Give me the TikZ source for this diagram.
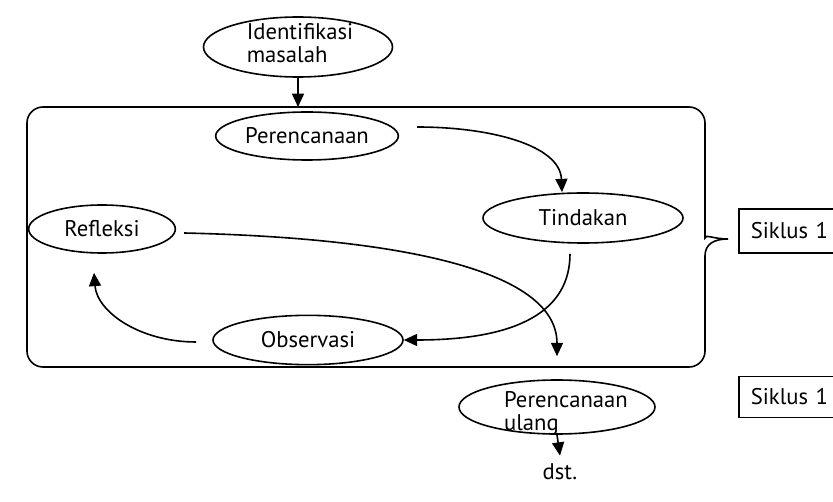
\documentclass[tikz,border=0pt]{standalone}
\usepackage{fontspec}
\setmainfont{PT Sans}
\usetikzlibrary{shapes.geometric,arrows.meta}
\newcommand\zbox[2]{\raisebox{#1}[0pt][0pt]{\makebox[0pt]{#2}}}
\tikzset{
  ln/.style={line width=1.2pt, black},
  oval/.style={ellipse, draw, ln, inner sep=0pt},
  arr/.style={ln, -{Triangle[length=10pt,width=9pt]}},
  sbox/.style={draw, ln, rectangle, anchor=west, minimum height=33pt, inner xsep=9pt, text width=61.5pt, align=left},
  txt/.style={inner sep=6pt}
}
\begin{document}
\begin{tikzpicture}[x=0.75pt,y=-0.75pt, font=\fontsize{17}{17.5}\selectfont]
\clip (0,0) rectangle (833,502);
\fill[white] (0,0) rectangle (833,502);

% outer cycle box with brace
\draw[ln] (27,240) [rounded corners=12pt] -- (27,107) -- (705,107) -- (705,222)
  [sharp corners] .. controls (705,234) and (714,239) .. (728,239)
  .. controls (714,239) and (705,244) .. (705,256)
  [rounded corners=12pt] -- (705,367) -- (27,367) -- (27,240);
\coordinate (boxtop) at (298,107);

% nodes
\node[oval, minimum width=141.75pt, minimum height=45pt] (I) at (298,47)
  {\zbox{-4pt}{\hspace*{3pt}\begin{tabular}{@{}l@{}}Identifikasi\\masalah\end{tabular}}};
\node[oval, minimum width=137pt, minimum height=36pt] (P) at (307,136) {Perencanaan};
\node[oval, minimum width=150pt, minimum height=37.5pt] (T) at (583,218) {Tindakan};
\node[oval, minimum width=110pt, minimum height=36pt] (R) at (102,229) {Refleksi};
\node[oval, minimum width=142.5pt, minimum height=37pt] (O) at (308,340) {Observasi};
\node[oval, minimum width=147pt, minimum height=40.5pt] (U) at (557,407)
  {\zbox{-10pt}{\hspace*{13.5pt}\begin{tabular}{@{}l@{}}Perencanaan\\ulang\end{tabular}}};
\node[txt] (dst) at (560,472) {dst.};
\node[sbox] (s1) at (738,231) {Siklus 1};
\node[sbox, minimum height=31pt] (s2) at (738,397) {Siklus 1};

% connectors
\draw[arr] (I.south) -- (boxtop);
\draw[arr] ([shift={(18,-9)}]P.east) .. controls (490,127) and (560,145) .. ([shift={(-21,0)}]T.north);
\draw[arr] ([shift={(-13,10)}]T.south) .. controls (570,310) and (520,340) .. (O.east);
\draw[arr] ([shift={(-16,2)}]O.west) .. controls (140,342) and (97,312) .. ([shift={(-8,19)}]R.south);
\draw[arr] ([shift={(8,4)}]R.east) .. controls (400,238) and (557,270) .. ([shift={(0,-23)}]U.north);
\draw[arr] (U.south) -- (dst.north);
\end{tikzpicture}
\end{document}
